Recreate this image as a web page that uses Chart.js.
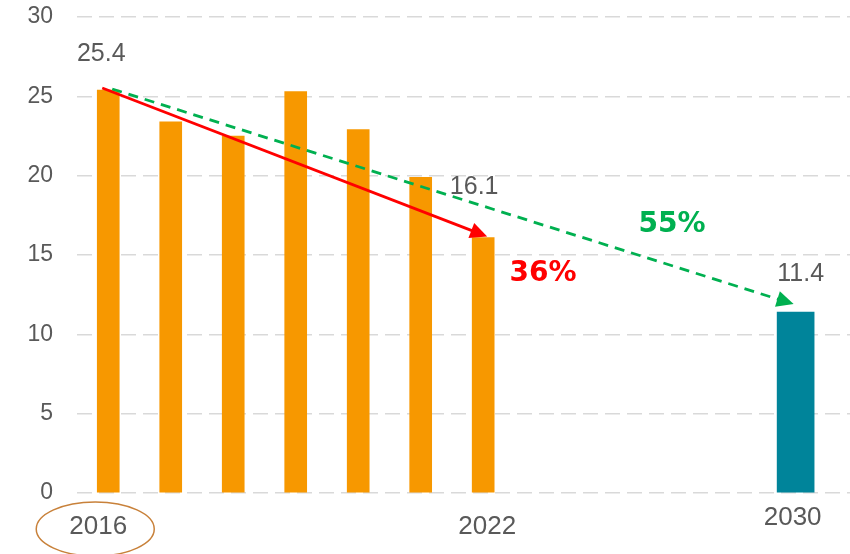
<!DOCTYPE html>
<html>
<head>
<meta charset="utf-8">
<script src="https://cdn.jsdelivr.net/npm/chart.js@4.4.1/dist/chart.umd.min.js"></script>
<style>
  html, body { margin: 0; padding: 0; background: #fff; }
  #wrap { width: 850px; height: 554px; position: relative; }
</style>
</head>
<body>
<div id="wrap"><canvas id="chart"></canvas></div>
<script>
// emissions by year: measured 2016-2022, target 2030
const years = [2016, 2017, 2018, 2019, 2020, 2021, 2022];
const values = [25.4, 23.4, 22.5, 25.3, 22.9, 19.9, 16.1];
const targetYear = 2030;
const targetValue = 11.4;
const axisYears = [2016, 2022, 2030];
const yTicks = [0, 5, 10, 15, 20, 25, 30];
const reductions = ['36%', '55%'];

// slot index on the x axis (2030 sits 5 slots after 2022)
const slotOf = y => y <= 2022 ? y - 2016 : 6 + (y - 2022) - 3;

const measured = years.map((y, i) => ({ x: slotOf(y), y: values[i] }));
const target = [{ x: slotOf(targetYear), y: targetValue }];

const gray = '#595959';

function arrow(ctx, x1, y1, x2, y2, color, dash) {
    const ang = Math.atan2(y2 - y1, x2 - x1);
    const head = 17, half = 8;
    ctx.save();
    ctx.strokeStyle = color;
    ctx.fillStyle = color;
    ctx.lineWidth = 2.8;
    ctx.setLineDash(dash || []);
    ctx.beginPath();
    ctx.moveTo(x1, y1);
    ctx.lineTo(x2 - Math.cos(ang) * head * 0.8, y2 - Math.sin(ang) * head * 0.8);
    ctx.stroke();
    ctx.setLineDash([]);
    ctx.beginPath();
    ctx.moveTo(x2, y2);
    ctx.lineTo(x2 - Math.cos(ang) * head - Math.sin(ang) * half, y2 - Math.sin(ang) * head + Math.cos(ang) * half);
    ctx.lineTo(x2 - Math.cos(ang) * head + Math.sin(ang) * half, y2 - Math.sin(ang) * head - Math.cos(ang) * half);
    ctx.closePath();
    ctx.fill();
    ctx.restore();
}

const overlay = {
    id: 'overlay',
    afterDatasetsDraw(chart) {
        const ctx = chart.ctx;
        const xs = chart.scales.x, ys = chart.scales.y;
        const px = v => xs.getPixelForValue(v);
        const py = v => ys.getPixelForValue(v);

        // x axis year labels
        ctx.save();
        ctx.fillStyle = gray;
        ctx.font = '26px "Liberation Sans", Arial, sans-serif';
        ctx.textAlign = 'center';
        ctx.textBaseline = 'middle';
        axisYears.forEach(y => {
            const dy = y === targetYear ? 25 : 34;
            const dx = y === targetYear ? -3 : (y === 2016 ? -10 : 4);
            ctx.fillText(String(y), px(slotOf(y)) + dx, py(0) + dy);
        });

        // value labels
        ctx.font = '25px "Liberation Sans", Arial, sans-serif';
        const first = measured[0], last = measured[measured.length - 1];
        ctx.fillText(String(first.y), px(first.x) - 7, py(first.y) - 36);
        ctx.fillText(String(last.y), px(last.x) - 9, py(last.y) - 50);
        ctx.fillText(String(target[0].y), px(target[0].x) + 5, py(target[0].y) - 38);
        ctx.restore();

        // reduction arrows
        const sx = px(first.x), sy = py(first.y);
        arrow(ctx, sx - 6, sy - 2, px(last.x) + 4, py(last.y) - 1, '#ff0000');
        arrow(ctx, sx + 4, sy - 1, px(target[0].x) - 2, py(target[0].y) - 8, '#00b050', [10, 7]);

        ctx.save();
        ctx.font = 'bold 28px "DejaVu Sans", Verdana, sans-serif';
        ctx.textAlign = 'center';
        ctx.textBaseline = 'middle';
        ctx.fillStyle = '#ff0000';
        ctx.fillText(reductions[0], 543, 274);
        ctx.fillStyle = '#00b050';
        ctx.fillText(reductions[1], 672, 225);

        // ring round the base year
        ctx.strokeStyle = '#c8813a';
        ctx.lineWidth = 1.5;
        ctx.beginPath();
        ctx.ellipse(px(0) - 13, py(0) + 36, 59, 27, 0, 0, Math.PI * 2);
        ctx.stroke();
        ctx.restore();
    }
};

new Chart(document.getElementById('chart'), {
    type: 'bar',
    data: {
        datasets: [
            { data: measured, backgroundColor: '#f79800', barThickness: 22 },
            { data: target, backgroundColor: '#00849a', barThickness: 37 }
        ]
    },
    options: {
        responsive: true,
        maintainAspectRatio: false,
        animation: false,
        layout: { padding: { top: 17, bottom: 61, left: 0, right: 0 } },
        plugins: { legend: { display: false }, tooltip: { enabled: false } },
        datasets: { bar: { grouped: false } },
        scales: {
            x: {
                type: 'linear',
                display: false,
                offset: false,
                min: -0.5,
                max: 11.87
            },
            y: {
                min: 0,
                max: 30,
                afterFit: s => {
                    s.width = 77;
                    s.paddingTop = 0;
                    s.paddingBottom = 0;
                },
                afterBuildTicks: s => { s.ticks = yTicks.map(v => ({ value: v })); },
                border: { display: false, dash: [15, 7] },
                grid: {
                    color: '#d9d9d9',
                    lineWidth: 1.5,
                    drawTicks: false
                },
                ticks: {
                    padding: 24,
                    color: gray,
                    font: { family: '"Liberation Sans", Arial, sans-serif', size: 23 }
                }
            }
        }
    },
    plugins: [overlay]
});
</script>
</body>
</html>
